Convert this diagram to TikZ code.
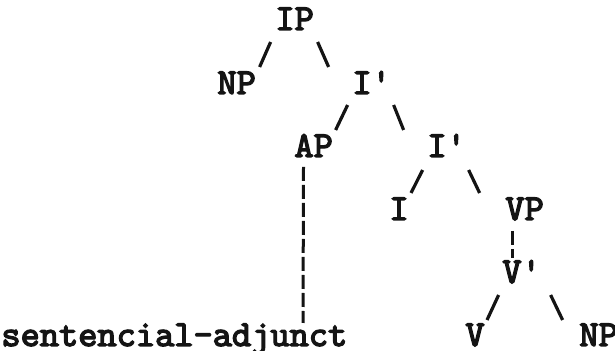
\documentclass[tikz,border=0pt]{standalone}
\usepackage{fontspec}
\usepackage{tikz}
\usetikzlibrary{calc}
\newfontfamily\tyfont{lmmono10-regular}[Extension=.otf, FakeBold=3.6]
\definecolor{tyInk}{RGB}{20,20,20}
\tikzset{
    base/.style={font=\fontsize{18.3}{20}\selectfont\tyfont, text=tyInk,
                 inner sep=0pt, anchor=base west},
    cat/.style={base},
    branch/.style={tyInk, line width=1.6pt},
    link/.style={tyInk, line width=1.5pt, dash pattern=on 7pt off 2pt}
}

\begin{document}
\begin{tikzpicture}[x=0.5pt, y=-0.5pt]
  \useasboundingbox (0,0) rectangle (615,351);

  % Categories, one row per level
  \node[cat] (ip)   at (275,30)  {IP};
  \node[cat] (np)   at (217,94)  {NP};
  \node[cat] (ibar) at (352,94)  {I'};
  \node[cat] (ap)   at (294,157) {AP};
  \node[cat] (ibr)  at (427,157) {I'};
  \node[cat] (i)    at (389,220) {I};
  \node[cat] (vp)   at (505,220) {VP};
  \node[cat] (vbar) at (502,283) {V'};
  \node[cat] (v)    at (465,346) {V};
  \node[cat] (obj)  at (579,346) {NP};
  \node[cat] (adj)  at (1,346)   {sentencial-adjunct};

  % Branches
  \draw[branch] ($(ip.base)+(-24,12)$)   -- ($(np.base)+(23,-27)$);
  \draw[branch] ($(ip.base)+(23,12)$)    -- ($(ibar.base)+(-43,-27)$);
  \draw[branch] ($(ibar.base)+(-24,11)$) -- ($(ap.base)+(22,-27)$);
  \draw[branch] ($(ibar.base)+(22,11)$)  -- ($(ibr.base)+(-43,-27)$);
  \draw[branch] ($(ibr.base)+(-24,13)$)  -- ($(i.base)+(12,-27)$);
  \draw[branch] ($(ibr.base)+(22,13)$)   -- ($(vp.base)+(-45,-27)$);
  \draw[branch] ($(vbar.base)+(-23,12)$) -- ($(v.base)+(12,-26)$);
  \draw[branch] ($(vbar.base)+(29,12)$)  -- ($(obj.base)+(-36,-26)$);

  % Dashed links
  \draw[link] ($(ap.base west)+(9.5,10)$) -- ($(adj.base west)+(302,-23)$);
  \draw[link] ($(vp.base west)+(7,11)$)   -- ($(vbar.base west)+(10,-25)$);
\end{tikzpicture}
\end{document}
